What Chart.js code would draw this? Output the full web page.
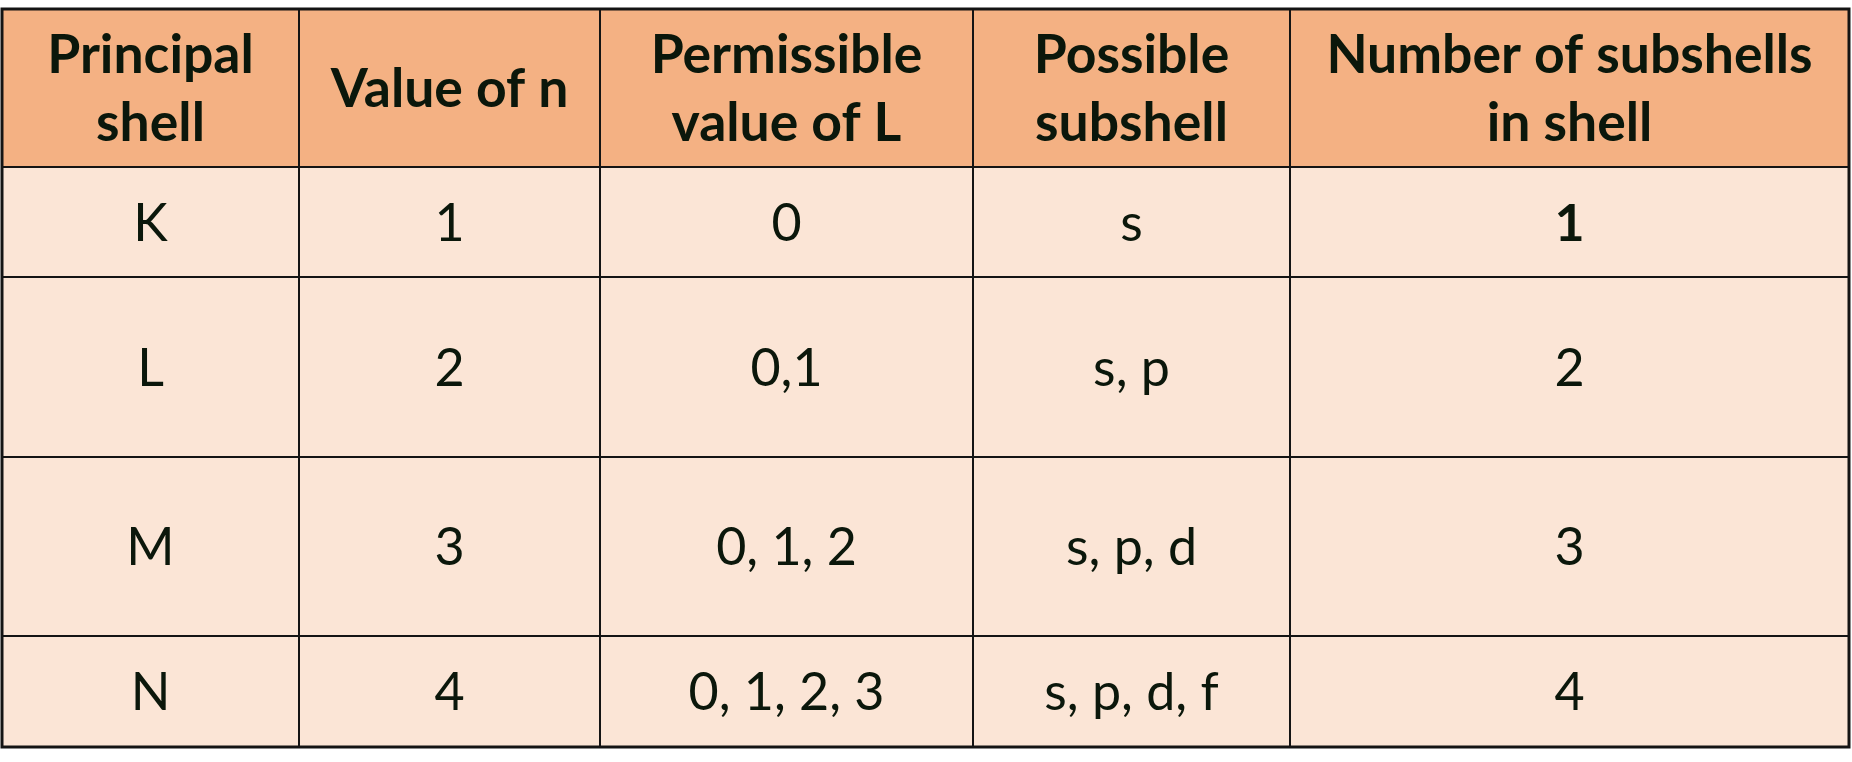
<!DOCTYPE html>
<html>
<head>
<meta charset="utf-8">
<script src="https://cdn.jsdelivr.net/npm/chart.js@4.4.1/dist/chart.umd.min.js"></script>
<style>
  html, body { margin: 0; padding: 0; background: #ffffff; }
  #table { display: block; }
</style>
</head>
<body>
<canvas id="table" width="1852" height="762"></canvas>
<script>
// table content
const headers = [
  ["Principal", "shell"],
  ["Value of n"],
  ["Permissible", "value of L"],
  ["Possible", "subshell"],
  ["Number of subshells", "in shell"],
];
const shells = ["K", "L", "M", "N"];
const nValues = ["1", "2", "3", "4"];
const lValues = ["0", "0,1", "0, 1, 2", "0, 1, 2, 3"];
const subshells = ["s", "s, p", "s, p, d", "s, p, d, f"];
const subshellCounts = ["1", "2", "3", "4"];

// layout (column widths / row heights in table units)
const colWidths = [297, 301, 373, 317, 559];
const rowHeights = [158, 110, 180, 179, 111];
const boldCells = [[0, 4]]; // [bodyRow, col]

const headFill = "#f4b183";
const bodyFill = "#fbe5d6";
const lineColor = "#141414";
const textColor = "#0b170b";
const fontFamily = "Lato, 'Noto Sans', sans-serif";
const fontSize = 52;
const headSize = 53.5;

function edges(sizes) {
  const out = [0];
  sizes.forEach((s, i) => out.push(out[i] + s));
  return out;
}
const xEdges = edges(colWidths);
const yEdges = edges(rowHeights);
const totalW = xEdges[xEdges.length - 1];
const totalH = yEdges[yEdges.length - 1];

const bodyRows = shells.map((s, i) => [s, nValues[i], lValues[i], subshells[i], subshellCounts[i]]);

const tablePlugin = {
  id: "tablePlugin",
  beforeDatasetsDraw(chart) {
    const ctx = chart.ctx;
    const x = chart.scales.x;
    const y = chart.scales.y;
    const px = (v) => x.getPixelForValue(v);
    const py = (v) => y.getPixelForValue(v);
    const capH = fontSize * 0.72;
    const headCap = headSize * 0.72;
    const lineGap = 68;

    ctx.save();
    // cell fills
    for (let r = 0; r < rowHeights.length; r++) {
      ctx.fillStyle = r === 0 ? headFill : bodyFill;
      ctx.fillRect(px(0), py(yEdges[r]), px(totalW) - px(0), py(yEdges[r + 1]) - py(yEdges[r]));
    }

    // text
    ctx.fillStyle = textColor;
    ctx.textAlign = "center";
    ctx.textBaseline = "alphabetic";
    for (let c = 0; c < colWidths.length; c++) {
      const cx = (px(xEdges[c]) + px(xEdges[c + 1])) / 2;
      // header
      const lines = headers[c];
      const cy0 = (py(yEdges[0]) + py(yEdges[1])) / 2;
      ctx.font = "700 " + headSize + "px " + fontFamily;
      const firstBase = cy0 + headCap / 2 - (lines.length - 1) * lineGap / 2;
      lines.forEach((t, i) => ctx.fillText(t, cx, firstBase + i * lineGap));
      // body
      bodyRows.forEach((row, r) => {
        const cy = (py(yEdges[r + 1]) + py(yEdges[r + 2])) / 2;
        const bold = boldCells.some((b) => b[0] === r && b[1] === c);
        ctx.font = (bold ? "700 " : "400 ") + fontSize + "px " + fontFamily;
        ctx.fillText(row[c], cx, cy + capH / 2);
      });
    }

    // grid lines
    ctx.strokeStyle = lineColor;
    ctx.lineWidth = 2;
    ctx.beginPath();
    for (let c = 1; c < xEdges.length - 1; c++) {
      ctx.moveTo(px(xEdges[c]), py(0));
      ctx.lineTo(px(xEdges[c]), py(totalH));
    }
    for (let r = 1; r < yEdges.length - 1; r++) {
      ctx.moveTo(px(0), py(yEdges[r]));
      ctx.lineTo(px(totalW), py(yEdges[r]));
    }
    ctx.stroke();
    ctx.lineWidth = 3;
    ctx.strokeRect(px(0), py(0), px(totalW) - px(0), py(totalH) - py(0));
    ctx.restore();
  },
};

new Chart(document.getElementById("table"), {
  type: "scatter",
  data: { datasets: [] },
  options: {
    responsive: false,
    animation: false,
    devicePixelRatio: 1,
    layout: { padding: { left: 2, right: 3, top: 9, bottom: 15 } },
    plugins: { legend: { display: false }, tooltip: { enabled: false } },
    scales: {
      x: { type: "linear", min: 0, max: totalW, display: false },
      y: { type: "linear", min: 0, max: totalH, reverse: true, display: false },
    },
  },
  plugins: [tablePlugin],
});
</script>
</body>
</html>
